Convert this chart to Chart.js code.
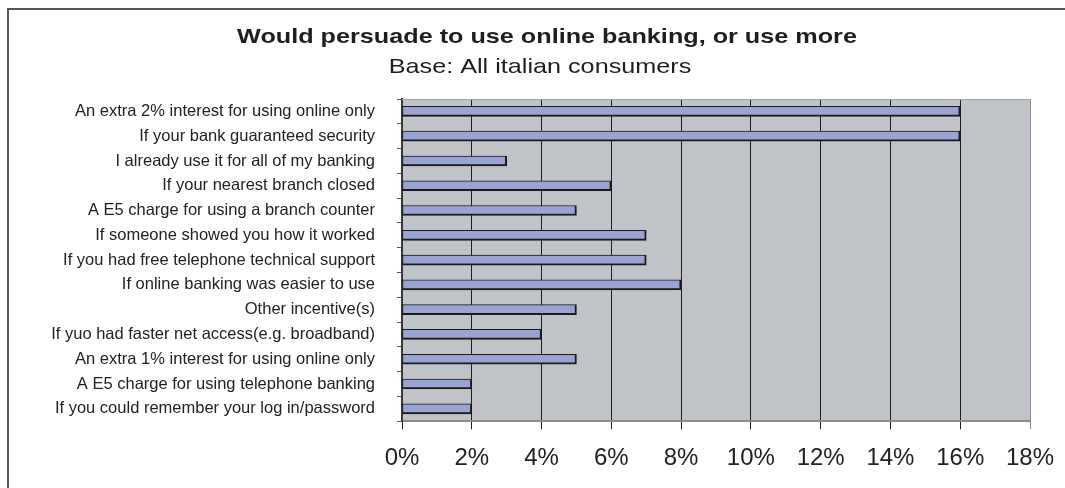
<!DOCTYPE html>
<html>
<head>
<meta charset="utf-8">
<title>Would persuade to use online banking</title>
<script src="https://cdn.jsdelivr.net/npm/chart.js@4/dist/chart.umd.min.js"></script>
<style>
  html, body { margin: 0; padding: 0; background: #fff; overflow: hidden; }
  #frame {
    position: absolute; left: 7px; top: 8px; width: 1200px; height: 600px;
    border-top: 2px solid #555; border-left: 2px solid #555;
  }
  #chart { position: absolute; left: 0; top: 0; }
</style>
</head>
<body>
<div id="frame"></div>
<canvas id="chart" width="1065" height="488"></canvas>
<script>
// Chart data
const categories = [
  'An extra 2% interest for using online only',
  'If your bank guaranteed security',
  'I already use it for all of my banking',
  'If your nearest branch closed',
  'A E5 charge for using a branch counter',
  'If someone showed you how it worked',
  'If you had free telephone technical support',
  'If online banking was easier to use',
  'Other incentive(s)',
  'If yuo had faster net access(e.g. broadband)',
  'An extra 1% interest for using online only',
  'A E5 charge for using telephone banking',
  'If you could remember your log in/password'
];
const values = [16, 16, 3, 6, 5, 7, 7, 8, 5, 4, 5, 2, 2];
const xTickValues = [0, 2, 4, 6, 8, 10, 12, 14, 16, 18];
const titleText = 'Would persuade to use online banking, or use more';
const subtitleText = 'Base: All italian consumers';

const FONT = "'Liberation Sans', Arial, sans-serif";
const PLOT_BG = '#C0C3C8';
const BAR_FILL = '#99A3D4';

// Grey plot area + light top edge
const plotBackground = {
  id: 'plotBackground',
  beforeDraw(chart) {
    const { ctx, chartArea: a } = chart;
    ctx.save();
    ctx.fillStyle = PLOT_BG;
    ctx.fillRect(a.left, a.top, a.right - a.left, a.bottom - a.top);
    ctx.restore();
  },
  beforeDatasetsDraw(chart) {
    const { ctx, chartArea: a } = chart;
    ctx.save();
    ctx.strokeStyle = '#a4a6aa';
    ctx.lineWidth = 1;
    ctx.beginPath();
    ctx.moveTo(a.left, a.top + 0.5);
    ctx.lineTo(a.right, a.top + 0.5);
    ctx.stroke();
    ctx.restore();
  }
};

// Title + subtitle, drawn a bit wide like the original export
const headings = {
  id: 'headings',
  afterDraw(chart) {
    const ctx = chart.ctx;
    const lines = [
      { text: titleText, x: 547, y: 43, font: 'bold 21px ' + FONT },
      { text: subtitleText, x: 540, y: 73, font: '21px ' + FONT }
    ];
    lines.forEach(l => {
      ctx.save();
      ctx.translate(l.x, l.y);
      ctx.scale(1.2, 1);
      ctx.font = l.font;
      ctx.fillStyle = '#1e1e1e';
      ctx.textAlign = 'center';
      ctx.textBaseline = 'alphabetic';
      ctx.fillText(l.text, 0, 0);
      ctx.restore();
    });
  }
};

const ctx = document.getElementById('chart').getContext('2d');
const chart = new Chart(ctx, {
  type: 'bar',
  data: {
    labels: categories,
    datasets: [{
      data: values,
      backgroundColor: BAR_FILL,
      borderColor: '#1a1a1a',
      borderWidth: { top: 1, left: 1, right: 2, bottom: 2 },
      borderSkipped: false,
      barThickness: 10
    }]
  },
  options: {
    indexAxis: 'y',
    responsive: false,
    devicePixelRatio: 1,
    animation: false,
    layout: {
      padding: { left: 0, right: 35, top: 99, bottom: 0 }
    },
    scales: {
      x: {
        min: 0,
        max: 18,
        afterBuildTicks(axis) {
          axis.ticks = xTickValues.map(v => ({ value: v }));
        },
        afterFit(axis) {
          // keep the plot edge fixed; the 18% label may hang into the margin
          axis.paddingLeft = 0;
          axis.paddingRight = 0;
        },
        ticks: {
          callback: v => v + '%',
          color: '#222',
          font: { family: FONT, size: 24 },
          padding: 15,
          maxRotation: 0
        },
        grid: {
          color: c => (c.tick && c.tick.value === 18) ? '#8a8c90' : '#1e1e1e',
          lineWidth: 1,
          tickLength: 8,
          drawOnChartArea: true
        },
        border: { color: '#8a8c90', width: 2 }
      },
      y: {
        afterFit(axis) {
          axis.width = 402;
        },
        ticks: {
          color: '#222',
          font: { family: FONT, size: 16.5 },
          padding: 22,
          autoSkip: false
        },
        grid: {
          drawOnChartArea: false,
          color: '#555',
          tickLength: 5,
          offset: true
        },
        border: { color: '#3a3a3a', width: 2 }
      }
    },
    plugins: {
      legend: { display: false },
      tooltip: { enabled: false },
      title: { display: false },
      subtitle: { display: false }
    }
  },
  plugins: [plotBackground, headings]
});
</script>
</body>
</html>
